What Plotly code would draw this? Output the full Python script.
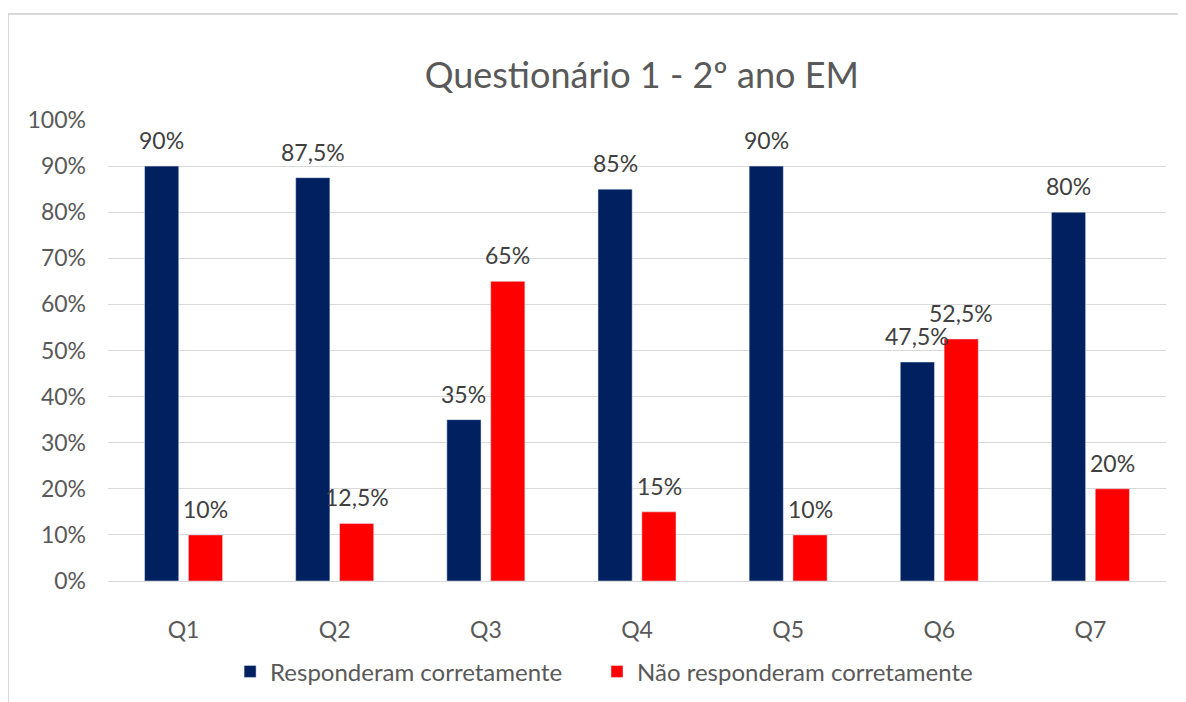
import plotly.graph_objects as go

questoes = ["Q1", "Q2", "Q3", "Q4", "Q5", "Q6", "Q7"]
corretas = [90, 87.5, 35, 85, 90, 47.5, 80]
incorretas = [10, 12.5, 65, 15, 10, 52.5, 20]
y_ticks = list(range(0, 101, 10))


def rotulo(v):
    return (f"{v:g}%").replace(".", ",")


FONT = "Lato, 'Open Sans', sans-serif"

fig = go.Figure()
fig.add_trace(go.Bar(x=questoes, y=corretas, name="Responderam corretamente",
                     marker=dict(color="#002060"), legend="legend", showlegend=True))
fig.add_trace(go.Bar(x=questoes, y=incorretas, name="Não responderam corretamente",
                     marker=dict(color="#FF0000"), legend="legend2", showlegend=True))

# data labels above each bar (Excel style, comma decimals)
anotacoes = []
for serie, shift in ((corretas, -22), (incorretas, 22)):
    for q, v in zip(questoes, serie):
        anotacoes.append(dict(x=q, y=v, text=rotulo(v), showarrow=False,
                              xshift=shift, yshift=26, yanchor="middle",
                              font=dict(size=23, color="#404040", family=FONT)))

legenda = dict(orientation="h", xanchor="left", y=-0.197, yanchor="middle",
               font=dict(size=24, color="#595959", family=FONT),
               itemwidth=30, bgcolor="rgba(0,0,0,0)")

# page body has an 8px margin, so the figure is sized to the remaining area
fig.update_layout(
    width=1178, height=694,
    showlegend=True,
    paper_bgcolor="white", plot_bgcolor="white",
    font=dict(family=FONT, color="#595959"),
    title=dict(text="Questionário 1 - 2º ano EM", x=0.538, xanchor="center",
               y=0.9035, yanchor="middle",
               font=dict(size=36, color="#595959", family=FONT)),
    margin=dict(l=100, r=20, t=112, b=121, autoexpand=False),
    barmode="group", bargap=0.42, bargroupgap=0.22,
    annotations=anotacoes,
    legend=dict(legenda, x=0.1154),
    legend2=dict(legenda, x=0.4622),
    xaxis=dict(showgrid=False, showline=True, linecolor="#d9d9d9", linewidth=1,
               ticks="", ticklabelstandoff=28, tickfont=dict(size=23, color="#595959")),
    yaxis=dict(range=[0, 100], tickvals=y_ticks,
               ticktext=[f"{t}%" for t in y_ticks],
               showgrid=True, gridcolor="#d9d9d9", gridwidth=1,
               zeroline=False, ticks="", ticklabelstandoff=21,
               tickfont=dict(size=23, color="#595959")),
    shapes=[dict(type="rect", xref="paper", yref="paper",
                 x0=-100 / 1058, x1=1.2, y0=-0.4, y1=1 + 106 / 461,
                 line=dict(color="#d9d9d9", width=2), fillcolor="rgba(0,0,0,0)",
                 layer="below")],
)

fig.write_html("out.html")
